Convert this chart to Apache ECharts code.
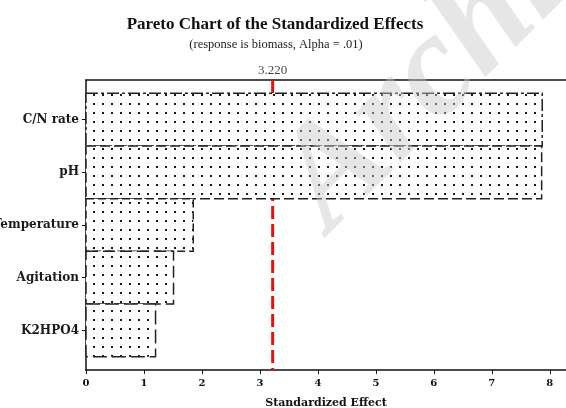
<!DOCTYPE html>
<html>
<head>
<meta charset="utf-8">
<script src="https://cdn.jsdelivr.net/npm/echarts@6/dist/echarts.min.js"></script>
<style>
  html, body { margin: 0; padding: 0; background: #fff; }
  #chart { width: 566px; height: 408px; }
</style>
</head>
<body>
<div id="chart"></div>
<script>
// ---- data ----
const categories = ['C/N rate', 'pH', 'Temperature', 'Agitation', 'K2HPO4'];
const effects = [7.87, 7.86, 1.85, 1.51, 1.20];
const xTicks = [0, 1, 2, 3, 4, 5, 6, 7, 8];
const criticalValue = 3.220;
const criticalLabel = '3.220';
const titleText = 'Pareto Chart of the Standardized Effects';
const subtitleText = '(response is biomass, Alpha = .01)';
const xAxisTitle = 'Standardized Effect';

// ---- styles ----
const barDashes = [[12, 3, 3, 3], [10, 4], [8, 4], [12, 5], [14, 5]];
const Y_MIN = -0.75, Y_MAX = 4.75, X_MAX = 8.28;

// dot pattern
const tile = document.createElement('canvas');
tile.width = 9; tile.height = 9;
const tctx = tile.getContext('2d');
tctx.fillStyle = '#fff';
tctx.fillRect(0, 0, 9, 9);
tctx.fillStyle = '#1a1a1a';
tctx.fillRect(3, 4, 2, 2);

const chart = echarts.init(document.getElementById('chart'), null, { renderer: 'canvas' });

function renderBar(params, api) {
  const v = api.value(0), idx = api.value(1);
  const p0 = api.coord([0, idx]);
  const p1 = api.coord([v, idx]);
  const h = api.size([0, 1])[1];
  return {
    type: 'rect',
    shape: { x: p0[0], y: p0[1] - h / 2, width: p1[0] - p0[0], height: h },
    style: {
      fill: { image: tile, repeat: 'repeat' },
      stroke: '#222',
      lineWidth: 1.5,
      lineDash: barDashes[params.dataIndex % barDashes.length]
    }
  };
}

const serif = 'Liberation Serif';
const wideSerif = 'DejaVu Serif';

chart.setOption({
  animation: false,
  backgroundColor: '#fff',
  grid: { left: 86, right: 0, top: 80, bottom: 38, containLabel: false, outerBoundsMode: 'none' },
  xAxis: [
    {
      type: 'value', min: 0, max: X_MAX, position: 'bottom',
      axisLine: { show: true, onZero: false, lineStyle: { color: '#111', width: 1.5 } },
      axisTick: { show: true, customValues: xTicks, length: 4, lineStyle: { color: '#111' } },
      axisLabel: {
        customValues: xTicks, color: '#111', fontFamily: wideSerif, fontWeight: 'bold',
        fontSize: 10, margin: 8
      },
      splitLine: { show: false },
      name: xAxisTitle, nameLocation: 'middle', nameGap: 28,
      nameTextStyle: { fontFamily: wideSerif, fontWeight: 'bold', fontSize: 11, color: '#111' }
    },
    {
      type: 'value', min: 0, max: X_MAX, position: 'top',
      axisLine: { show: true, onZero: false, lineStyle: { color: '#111', width: 1.5 } },
      axisTick: { show: false }, axisLabel: { show: false }, splitLine: { show: false }
    }
  ],
  yAxis: {
    type: 'value', min: Y_MIN, max: Y_MAX, inverse: true,
    axisLine: { show: true, onZero: false, lineStyle: { color: '#111', width: 1.5 } },
    axisTick: { show: true, customValues: [0, 1, 2, 3, 4], length: 4, lineStyle: { color: '#111' } },
    axisLabel: {
      customValues: [0, 1, 2, 3, 4],
      formatter: v => categories[Math.round(v)],
      color: '#1a1a1a', fontFamily: wideSerif, fontWeight: 'bold', fontSize: 12, margin: 7
    },
    splitLine: { show: false }
  },
  graphic: [
    { type: 'text', x: 275, y: 25, style: { text: titleText, font: 'bold 17px "Liberation Serif"', fill: '#111', align: 'center', verticalAlign: 'middle' } },
    { type: 'text', x: 276, y: 45, style: { text: subtitleText, font: '12.5px "Liberation Serif"', fill: '#222', align: 'center', verticalAlign: 'middle' } },
    { type: 'text', x: 252, y: 155, rotation: Math.PI * 45 / 180, z: 100, silent: true,
      style: { text: 'Archive of SID', font: 'italic bold 145px "Liberation Serif"', fill: 'rgba(200,200,200,0.45)' } }
  ],
  series: [
    {
      type: 'line', xAxisIndex: 0, z: 1,
      data: [[criticalValue, Y_MIN], [criticalValue, Y_MAX]],
      symbol: 'none',
      lineStyle: { color: '#e01414', width: 3, type: [13, 5] }
    },
    {
      type: 'scatter', xAxisIndex: 0, z: 1,
      data: [[criticalValue, Y_MIN]],
      symbolSize: 0,
      label: { show: true, position: 'top', distance: 3, formatter: criticalLabel,
        fontFamily: serif, fontSize: 13, color: '#111' }
    },
    {
      type: 'custom', xAxisIndex: 0, z: 2,
      renderItem: renderBar,
      data: effects.map((v, i) => [v, i])
    }
  ]
});
</script>
</body>
</html>
